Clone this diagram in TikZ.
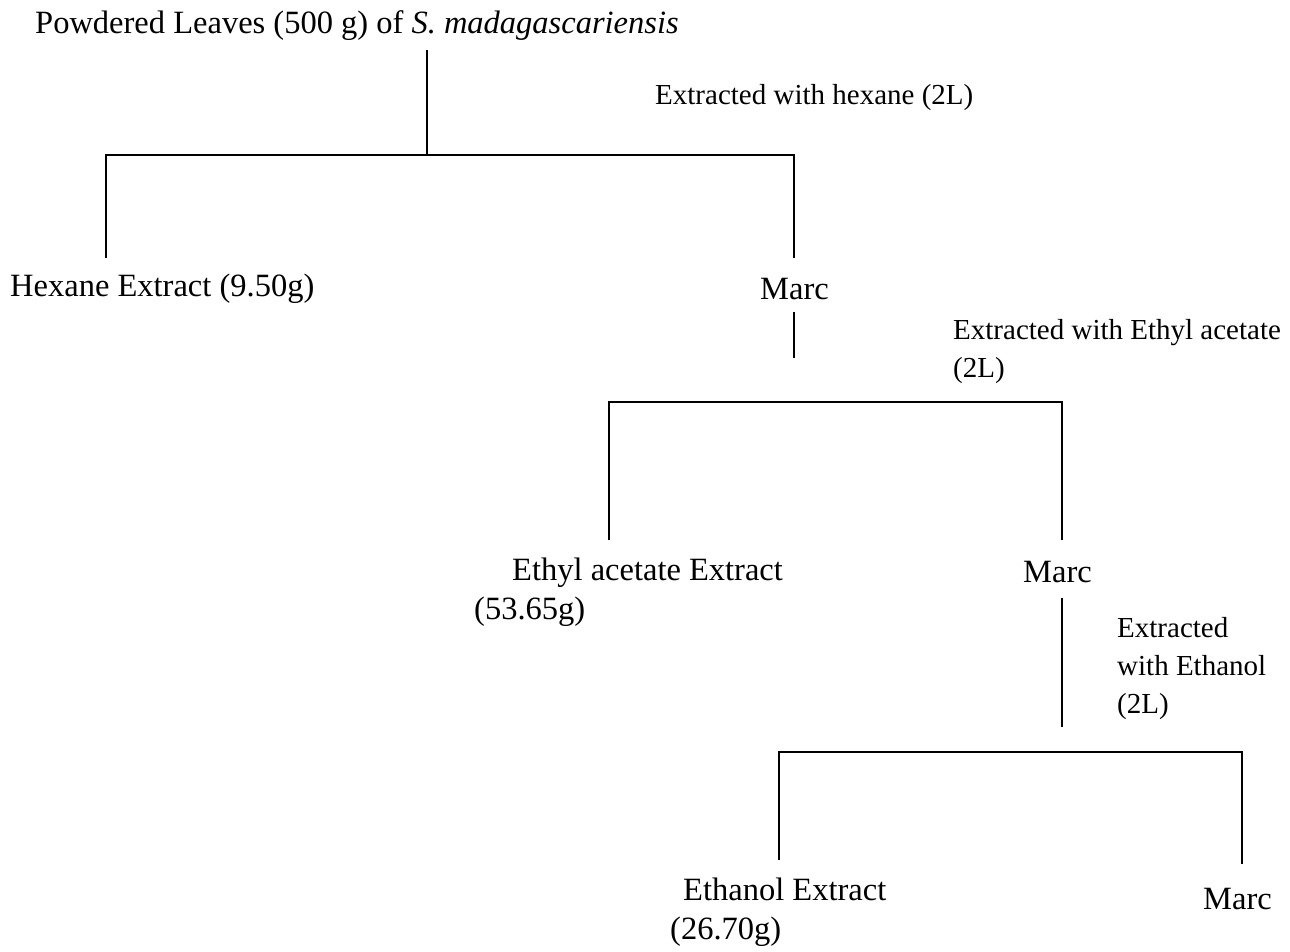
\documentclass[tikz,border=0pt]{standalone}
\usepackage{fontspec}
\setmainfont{Liberation Serif}
\begin{document}
\begin{tikzpicture}[x=1pt,y=-1pt,
  lbl/.style={inner sep=0pt, anchor=west, align=left, font=\fontsize{32.5}{39.5}\selectfont},
  steplbl/.style={inner sep=0pt, anchor=west, align=left, font=\fontsize{29}{38}\selectfont},
  conn/.style={line width=1.6pt, black}]
\useasboundingbox (0,0) rectangle (1290,951);
% texts
\node[lbl] (root) at (35,26) {Powdered Leaves (500 g) of \textit{S. madagascariensis}};
\node[steplbl] (s1) at (655,98) {Extracted with hexane (2L)};
\node[lbl] (hex) at (10,289) {Hexane Extract (9.50g)};
\node[lbl] (marc1) at (760,289) {Marc};
\node[steplbl] (s2) at (953,352) {Extracted with Ethyl acetate\\(2L)};
\node[lbl] (eth) at (474,592) {\hspace*{38pt}Ethyl acetate Extract\\(53.65g)};
\node[lbl] (marc2) at (1023,572) {Marc};
\node[steplbl] (s3) at (1117,669) {Extracted\\with Ethanol\\(2L)};
\node[lbl] (etoh) at (670,912) {\hspace*{13pt}Ethanol Extract\\(26.70g)};
\node[lbl] (marc3) at (1203,899) {Marc};
% junction coordinates
\coordinate (r0) at (427,50);
\coordinate (j1) at (427,155);
\coordinate (l1) at (106,155);
\coordinate (r1) at (794,155);
\coordinate (l1b) at (106,258);
\coordinate (r1b) at (794,258);
\coordinate (m1) at (794,312);
\coordinate (j2) at (794,358);
\coordinate (l2) at (609,402);
\coordinate (r2) at (1062,402);
\coordinate (l2b) at (609,540);
\coordinate (r2b) at (1062,540);
\coordinate (m2) at (1062,598);
\coordinate (j3) at (1062,727);
\coordinate (l3) at (779,752);
\coordinate (r3) at (1242,752);
\coordinate (l3b) at (779,860);
\coordinate (r3b) at (1242,864);
% connectors
\draw[conn] (r0) -- (j1);
\draw[conn] (l1b) -- (l1) -- (r1) -- (r1b);
\draw[conn] (m1) -- (j2);
\draw[conn] (l2b) -- (l2) -- (r2) -- (r2b);
\draw[conn] (m2) -- (j3);
\draw[conn] (l3b) -- (l3) -- (r3) -- (r3b);
\end{tikzpicture}
\end{document}
